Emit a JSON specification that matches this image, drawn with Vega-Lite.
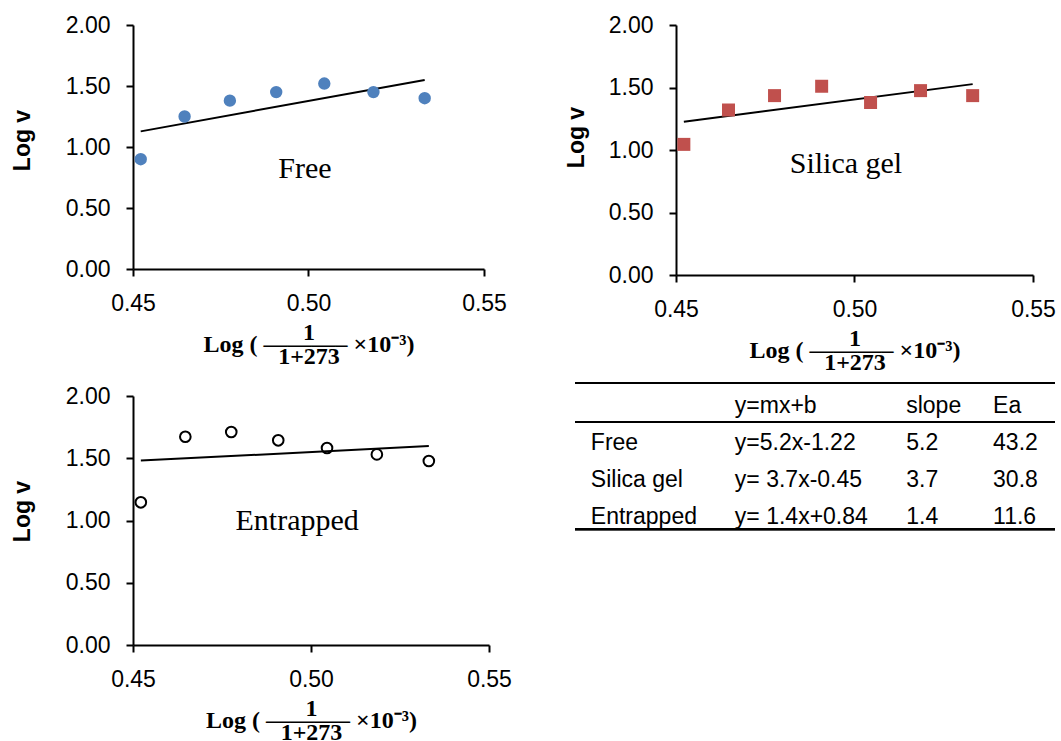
{
  "$schema": "https://vega.github.io/schema/vega-lite/v6.json",
  "background": "white",
  "padding": {"left": 11, "top": 14, "right": 2, "bottom": 0},
  "config": {
    "view": {"stroke": null},
    "axis": {
      "grid": false,
      "domainColor": "black",
      "domainWidth": 2,
      "tickColor": "black",
      "tickWidth": 2,
      "tickSize": 7,
      "labelFont": "Liberation Sans",
      "labelFontSize": 23,
      "labelColor": "black",
      "labelPadding": 16,
      "titleColor": "black"
    },
    "axisX": {
      "titleFont": "Liberation Serif",
      "titleFontWeight": "bold",
      "titleFontSize": 24,
      "titleLineHeight": 12,
      "titlePadding": 5,
      "labelFlush": false,
      "labelOverlap": false
    },
    "axisY": {
      "titleFont": "Liberation Sans",
      "titleFontWeight": "bold",
      "titleFontSize": 23,
      "labelOverlap": false
    }
  },
  "datasets": {
    "free": [
      {"x": 0.4522, "y": 0.90}, {"x": 0.4647, "y": 1.25}, {"x": 0.4776, "y": 1.38},
      {"x": 0.4908, "y": 1.45}, {"x": 0.5045, "y": 1.52}, {"x": 0.5185, "y": 1.45},
      {"x": 0.5331, "y": 1.40}
    ],
    "silica": [
      {"x": 0.4522, "y": 1.045}, {"x": 0.4647, "y": 1.32}, {"x": 0.4776, "y": 1.435},
      {"x": 0.4908, "y": 1.51}, {"x": 0.5045, "y": 1.38}, {"x": 0.5185, "y": 1.475},
      {"x": 0.5331, "y": 1.435}
    ],
    "entrapped": [
      {"x": 0.4522, "y": 1.146}, {"x": 0.4647, "y": 1.673}, {"x": 0.4776, "y": 1.711},
      {"x": 0.4908, "y": 1.644}, {"x": 0.5045, "y": 1.582}, {"x": 0.5185, "y": 1.531},
      {"x": 0.5331, "y": 1.478}
    ],
    "trends": [
      {"series": "Free", "x": 0.4522, "y": 1.128}, {"series": "Free", "x": 0.5331, "y": 1.550},
      {"series": "Silica gel", "x": 0.4522, "y": 1.226}, {"series": "Silica gel", "x": 0.5331, "y": 1.527},
      {"series": "Entrapped", "x": 0.4522, "y": 1.481}, {"series": "Entrapped", "x": 0.5331, "y": 1.598}
    ],
    "notes": [
      {"series": "Free", "label": "Free"},
      {"series": "Silica gel", "label": "Silica gel"},
      {"series": "Entrapped", "label": "Entrapped"}
    ],
    "table": [
      {"row": 0, "label": "", "eq": "y=mx+b", "slope": "slope", "ea": "Ea"},
      {"row": 1, "label": "Free", "eq": "y=5.2x-1.22", "slope": "5.2", "ea": "43.2"},
      {"row": 2, "label": "Silica gel", "eq": "y= 3.7x-0.45", "slope": "3.7", "ea": "30.8"},
      {"row": 3, "label": "Entrapped", "eq": "y= 1.4x+0.84", "slope": "1.4", "ea": "11.6"}
    ]
  },
  "vconcat": [
    {
      "hconcat": [
        {
          "width": 351, "height": 244,
          "layer": [
            {"data": {"name": "trends"}, "transform": [{"filter": "datum.series === 'Free'"}],
             "mark": {"type": "line", "color": "black", "strokeWidth": 2},
             "encoding": {
               "x": {"field": "x", "type": "quantitative",
                 "scale": {"domain": [0.45, 0.55], "nice": false, "zero": false},
                 "axis": {"values": [0.45, 0.5, 0.55], "format": ".2f",
                   "title": ["1", "Log (  ———–  ×10⁻³)", "1+273"]}},
               "y": {"field": "y", "type": "quantitative",
                 "scale": {"domain": [0, 2], "nice": false},
                 "axis": {"values": [0, 0.5, 1, 1.5, 2], "format": ".2f", "title": "Log v", "titlePadding": 31, "titleY": 115}}
             }},
            {"data": {"name": "free"},
             "mark": {"type": "point", "shape": "circle", "filled": true, "size": 154, "color": "#4F81BD", "opacity": 1},
             "encoding": {"x": {"field": "x", "type": "quantitative"}, "y": {"field": "y", "type": "quantitative"}}},
            {"data": {"name": "notes"}, "transform": [{"filter": "datum.series === 'Free'"}],
             "mark": {"type": "text", "font": "Liberation Serif", "fontSize": 30, "align": "center", "baseline": "alphabetic", "color": "black"},
             "encoding": {"x": {"datum": 0.499, "type": "quantitative"}, "y": {"datum": 0.746, "type": "quantitative"}, "text": {"field": "label"}}}
          ]
        },
        {
          "width": 357, "height": 250,
          "layer": [
            {"data": {"name": "trends"}, "transform": [{"filter": "datum.series === 'Silica gel'"}],
             "mark": {"type": "line", "color": "black", "strokeWidth": 2},
             "encoding": {
               "x": {"field": "x", "type": "quantitative",
                 "scale": {"domain": [0.45, 0.55], "nice": false, "zero": false},
                 "axis": {"values": [0.45, 0.5, 0.55], "format": ".2f",
                   "title": ["1", "Log (  ———–  ×10⁻³)", "1+273"]}},
               "y": {"field": "y", "type": "quantitative",
                 "scale": {"domain": [0, 2], "nice": false},
                 "axis": {"values": [0, 0.5, 1, 1.5, 2], "format": ".2f", "title": "Log v", "titlePadding": 20, "titleY": 112}}
             }},
            {"data": {"name": "silica"},
             "mark": {"type": "point", "shape": "square", "filled": true, "size": 169, "color": "#C0504D", "opacity": 1},
             "encoding": {"x": {"field": "x", "type": "quantitative"}, "y": {"field": "y", "type": "quantitative"}}},
            {"data": {"name": "notes"}, "transform": [{"filter": "datum.series === 'Silica gel'"}],
             "mark": {"type": "text", "font": "Liberation Serif", "fontSize": 30, "align": "center", "baseline": "alphabetic", "color": "black"},
             "encoding": {"x": {"datum": 0.4976, "type": "quantitative"}, "y": {"datum": 0.818, "type": "quantitative"}, "text": {"field": "label"}}}
          ]
        }
      ],
      "spacing": 58
    },
    {
      "hconcat": [
        {
          "width": 356, "height": 249,
          "layer": [
            {"data": {"name": "trends"}, "transform": [{"filter": "datum.series === 'Entrapped'"}],
             "mark": {"type": "line", "color": "black", "strokeWidth": 2},
             "encoding": {
               "x": {"field": "x", "type": "quantitative",
                 "scale": {"domain": [0.45, 0.55], "nice": false, "zero": false},
                 "axis": {"values": [0.45, 0.5, 0.55], "format": ".2f",
                   "title": ["1", "Log (  ———–  ×10⁻³)", "1+273"]}},
               "y": {"field": "y", "type": "quantitative",
                 "scale": {"domain": [0, 2], "nice": false},
                 "axis": {"values": [0, 0.5, 1, 1.5, 2], "format": ".2f", "title": "Log v", "titlePadding": 31, "titleY": 115}}
             }},
            {"data": {"name": "entrapped"},
             "mark": {"type": "point", "shape": "circle", "filled": false, "size": 113, "color": "black", "strokeWidth": 2, "opacity": 1},
             "encoding": {"x": {"field": "x", "type": "quantitative"}, "y": {"field": "y", "type": "quantitative"}}},
            {"data": {"name": "notes"}, "transform": [{"filter": "datum.series === 'Entrapped'"}],
             "mark": {"type": "text", "font": "Liberation Serif", "fontSize": 30, "align": "center", "baseline": "alphabetic", "color": "black"},
             "encoding": {"x": {"datum": 0.4961, "type": "quantitative"}, "y": {"datum": 0.926, "type": "quantitative"}, "text": {"field": "label"}}}
          ]
        },
        {
          "width": 480, "height": 249,
          "data": {"name": "table"},
          "layer": [
            {"mark": {"type": "text", "font": "Liberation Sans", "fontSize": 23, "align": "left", "baseline": "alphabetic", "color": "black"},
             "encoding": {
               "x": {"datum": 0.033, "type": "quantitative", "scale": {"domain": [0, 1], "nice": false, "zero": false}, "axis": null},
               "y": {"field": "row", "type": "quantitative", "scale": {"domain": [-0.461, 6.269], "nice": false, "zero": false, "reverse": true}, "axis": null},
               "text": {"field": "label"}}},
            {"mark": {"type": "text", "font": "Liberation Sans", "fontSize": 23, "align": "left", "baseline": "alphabetic", "color": "black"},
             "encoding": {
               "x": {"datum": 0.333, "type": "quantitative"},
               "y": {"field": "row", "type": "quantitative"},
               "text": {"field": "eq"}}},
            {"mark": {"type": "text", "font": "Liberation Sans", "fontSize": 23, "align": "left", "baseline": "alphabetic", "color": "black"},
             "encoding": {
               "x": {"datum": 0.69, "type": "quantitative"},
               "y": {"field": "row", "type": "quantitative"},
               "text": {"field": "slope"}}},
            {"mark": {"type": "text", "font": "Liberation Sans", "fontSize": 23, "align": "left", "baseline": "alphabetic", "color": "black"},
             "encoding": {
               "x": {"datum": 0.871, "type": "quantitative"},
               "y": {"field": "row", "type": "quantitative"},
               "text": {"field": "ea"}}},
            {"mark": {"type": "rule", "color": "black", "strokeWidth": 2},
             "encoding": {"x": {"datum": 0, "type": "quantitative"}, "x2": {"datum": 1}, "y": {"datum": -0.81, "type": "quantitative"}}},
            {"mark": {"type": "rule", "color": "black", "strokeWidth": 2},
             "encoding": {"x": {"datum": 0, "type": "quantitative"}, "x2": {"datum": 1}, "y": {"datum": 0.243, "type": "quantitative"}}},
            {"mark": {"type": "rule", "color": "black", "strokeWidth": 2},
             "encoding": {"x": {"datum": 0, "type": "quantitative"}, "x2": {"datum": 1}, "y": {"datum": 3.14, "type": "quantitative"}}}
          ]
        }
      ],
      "spacing": 62
    }
  ],
  "spacing": 8
}
